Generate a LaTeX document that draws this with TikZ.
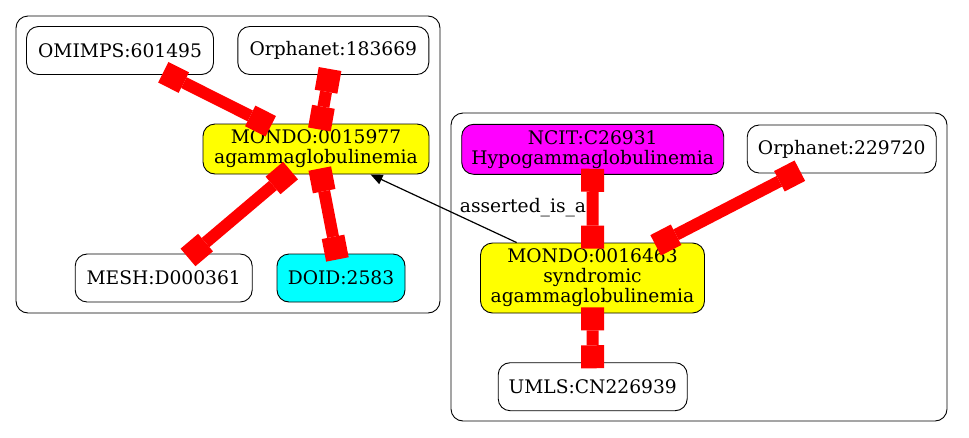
\documentclass[tikz,border=0pt]{standalone}
\usepackage{fontspec}
\setmainfont{DejaVu Serif}
\usetikzlibrary{arrows.meta}
\definecolor{gvyellow}{RGB}{255,255,0}
\definecolor{gvcyan}{RGB}{0,255,255}
\definecolor{gvmagenta}{RGB}{255,0,255}
\definecolor{gvred}{RGB}{255,0,0}
\tikzset{
  term/.style={draw=black, line width=0.9pt, rounded corners=12pt, minimum height=48pt,
    inner sep=0pt, align=center, font=\fontsize{18.67pt}{20pt}\selectfont},
  mondo/.style={term, fill=gvyellow, minimum height=50pt},
  cluster/.style={draw=black, line width=0.9pt, rounded corners=12pt},
  xref/.style={gvred, line width=12pt,
    {Square[length=23pt,width=23pt,line width=0pt]}-{Square[length=23pt,width=23pt,line width=0pt]},
    shorten <=-6pt, shorten >=-6pt},
  isa/.style={black, line width=1.2pt, -{Triangle[length=12pt,width=10pt]}},
  elabel/.style={font=\fontsize{18.67pt}{20pt}\selectfont, inner sep=0pt}
}
\begin{document}
\begin{tikzpicture}[x=1pt,y=-1pt]
\useasboundingbox (0,0) rectangle (969,437);
% clusters
\draw[cluster] (16,16) rectangle (440,313);
\draw[cluster] (451,113) rectangle (947,421);
% left cluster
\node[term, minimum width=187pt] (omim) at (120,50.5) {OMIMPS:601495};
\node[term, minimum width=191pt] (orphA) at (333.3,50.5) {Orphanet:183669};
\node[mondo, minimum width=226pt] (mondoA) at (316,149) {MONDO:0015977\\agammaglobulinemia};
\node[term, minimum width=177pt] (mesh) at (163.7,278) {MESH:D000361};
\node[term, fill=gvcyan, minimum width=128pt] (doid) at (341,278) {DOID:2583};
% right cluster
\node[term, fill=gvmagenta, minimum width=262pt, minimum height=50pt] (ncit) at (592.7,149.3) {NCIT:C26931\\Hypogammaglobulinemia};
\node[term, minimum width=189pt] (orphB) at (841.7,149) {Orphanet:229720};
\node[mondo, minimum width=224pt, minimum height=70pt] (mondoB) at (592.5,278) {MONDO:0016463\\syndromic\\agammaglobulinemia};
\node[term, minimum width=189pt] (umls) at (592.7,386.7) {UMLS:CN226939};
% is_a edge
\draw[isa] (mondoB) -- (mondoA) node[elabel] at (523,208) {asserted\_is\_a};
% xrefs
\draw[xref] (omim) -- (mondoA);
\draw[xref] (orphA) -- (mondoA);
\draw[xref] (mondoA) -- (mesh);
\draw[xref] (mondoA) -- (doid);
\draw[xref] (ncit) -- (mondoB);
\draw[xref] (orphB) -- (mondoB);
\draw[xref] (mondoB) -- (umls);
\end{tikzpicture}
\end{document}
